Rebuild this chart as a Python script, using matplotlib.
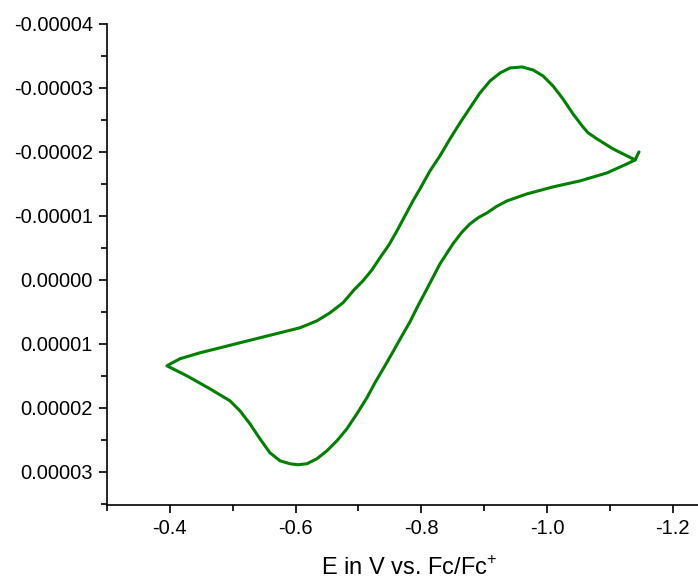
import matplotlib
matplotlib.use("Agg")
import matplotlib.pyplot as plt
from matplotlib.ticker import MultipleLocator, FuncFormatter, AutoMinorLocator

plt.rcParams['font.family'] = ['Liberation Sans', 'DejaVu Sans']
plt.rcParams['mathtext.fontset'] = 'custom'
plt.rcParams['mathtext.rm'] = 'Liberation Sans'
plt.rcParams['axes.unicode_minus'] = False

# potential (V vs. Fc/Fc+) and current (1e-5 A)
# first half: from the switching point at -1.14 V over to -0.40 V
e_fwd = [-1.1399, -1.1271, -1.1049, -1.0794, -1.0650, -1.0571, -1.0412, -1.0253,
         -1.0094, -0.9935, -0.9776, -0.9601, -0.9410, -0.9251, -0.9092, -0.8932,
         -0.8773, -0.8614, -0.8455, -0.8296, -0.8137, -0.7978, -0.7866, -0.7739,
         -0.7612, -0.7485, -0.7341, -0.7214, -0.7071, -0.6944, -0.6753, -0.6546,
         -0.6339, -0.6068, -0.5750, -0.5432, -0.5114, -0.4796, -0.4477, -0.4159,
         -0.3952]
i_fwd = [-1.875, -1.938, -2.047, -2.203, -2.300, -2.390, -2.594, -2.828,
         -3.031, -3.188, -3.281, -3.328, -3.313, -3.234, -3.109, -2.922,
         -2.688, -2.453, -2.203, -1.938, -1.703, -1.422, -1.234, -1.000,
         -0.766, -0.547, -0.344, -0.156, 0.016, 0.141, 0.359, 0.516,
         0.641, 0.750, 0.828, 0.906, 0.984, 1.063, 1.141, 1.234,
         1.344]
# second half: from -0.40 V back to -1.15 V
e_back = [-0.4080, -0.4270, -0.4636, -0.4955, -0.5114, -0.5273, -0.5432, -0.5591,
          -0.5750, -0.5909, -0.6037, -0.6180, -0.6339, -0.6498, -0.6657, -0.6816,
          -0.6975, -0.7134, -0.7262, -0.7421, -0.7548, -0.7691, -0.7819, -0.7946,
          -0.8089, -0.8296, -0.8503, -0.8640, -0.8773, -0.8910, -0.9044, -0.9200,
          -0.9362, -0.9680, -1.0094, -1.0524, -1.0953, -1.1271, -1.1399, -1.1462]
i_back = [1.406, 1.500, 1.703, 1.891, 2.047, 2.250, 2.484, 2.703,
          2.828, 2.875, 2.891, 2.875, 2.797, 2.672, 2.516, 2.328,
          2.094, 1.844, 1.609, 1.344, 1.125, 0.875, 0.656, 0.406,
          0.141, -0.250, -0.563, -0.740, -0.875, -0.975, -1.047, -1.150,
          -1.234, -1.344, -1.453, -1.547, -1.672, -1.813, -1.875, -2.000]

E = e_fwd + e_back
I = [v * 1e-5 for v in i_fwd + i_back]

fig = plt.figure(figsize=(6.98, 5.82), dpi=100)
ax = fig.add_axes([0.1533, 0.1323, 0.8467, 0.8265])

ax.plot(E, I, color='#008000', lw=2.2, solid_joinstyle='round', solid_capstyle='round')

ax.set_xlim(-0.3, -1.24)
ax.set_ylim(3.52e-5, -4e-5)

ax.xaxis.set_major_locator(MultipleLocator(0.2))
ax.xaxis.set_minor_locator(AutoMinorLocator(2))
ax.yaxis.set_major_locator(MultipleLocator(1e-5))
ax.yaxis.set_minor_locator(AutoMinorLocator(2))
ax.xaxis.set_major_formatter(FuncFormatter(lambda v, p: '%.1f' % v))
ax.yaxis.set_major_formatter(FuncFormatter(lambda v, p: '%.5f' % (0.0 if abs(v) < 1e-12 else v)))

for s in ['top', 'right']:
    ax.spines[s].set_visible(False)
for s in ['left', 'bottom']:
    ax.spines[s].set_linewidth(1.2)

ax.tick_params(which='major', direction='out', length=6, width=1.2, labelsize=14.5, pad=4)
ax.tick_params(which='minor', direction='out', length=4, width=1.2)

ax.set_xlabel('E in V vs. Fc/Fc$^{+}$', fontsize=17, labelpad=13)
ax.xaxis.label.set_x(0.512)

fig.savefig('out.png', dpi=100)
